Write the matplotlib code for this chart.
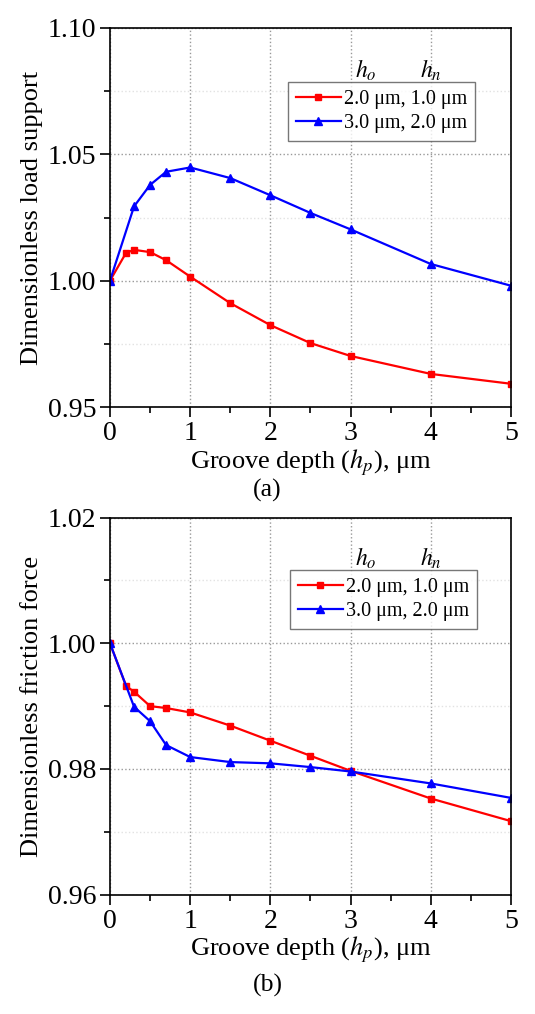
import matplotlib
matplotlib.use('Agg')
import matplotlib.pyplot as plt
from matplotlib.ticker import MultipleLocator, FormatStrFormatter

plt.rcParams['font.family'] = ['Liberation Serif', 'DejaVu Serif']
plt.rcParams['mathtext.fontset'] = 'stix'

# groove depth (um)
x_red = [0, 0.2, 0.3, 0.5, 0.7, 1.0, 1.5, 2.0, 2.5, 3.0, 4.0, 5.0]
x_blue = [0, 0.3, 0.5, 0.7, 1.0, 1.5, 2.0, 2.5, 3.0, 4.0, 5.0]

# (a) dimensionless load support
load_red = [1.000, 1.0110, 1.0122, 1.0113, 1.0081, 1.0016, 0.9911, 0.9824, 0.9753, 0.9702, 0.9631, 0.9592]
load_blue = [1.000, 1.0294, 1.0379, 1.0431, 1.0448, 1.0406, 1.0338, 1.0268, 1.0203, 1.0066, 0.9980]

# (b) dimensionless friction force
fric_red = [1.000, 0.9932, 0.9923, 0.9900, 0.9897, 0.9890, 0.9869, 0.9845, 0.9821, 0.9797, 0.9753, 0.9717]
fric_blue = [1.000, 0.9899, 0.9876, 0.9838, 0.9819, 0.9811, 0.9809, 0.9803, 0.9796, 0.9777, 0.9754]

labels = ['2.0 μm, 1.0 μm', '3.0 μm, 2.0 μm']

fig = plt.figure(figsize=(5.35, 10.14), dpi=100)
ax1 = fig.add_axes([0.2056, 0.5986, 0.7495, 0.3738])
ax2 = fig.add_axes([0.2056, 0.1177, 0.7495, 0.3718])


def style_axes(ax, ylim, ymaj, ymin, ylabel):
    ax.set_xlim(0, 5)
    ax.set_ylim(*ylim)
    ax.xaxis.set_major_locator(MultipleLocator(1))
    ax.xaxis.set_minor_locator(MultipleLocator(0.5))
    ax.yaxis.set_major_locator(MultipleLocator(ymaj))
    ax.yaxis.set_minor_locator(MultipleLocator(ymin))
    ax.yaxis.set_major_formatter(FormatStrFormatter('%.2f'))
    ax.tick_params(which='both', direction='out', top=False, right=False, labelsize=20, width=1.2)
    ax.tick_params(which='major', length=7, pad=3)
    ax.tick_params(which='minor', length=4)
    ax.grid(True, which='major', linestyle=':', color='#999999', linewidth=1.0)
    ax.grid(True, which='minor', axis='y', linestyle=':', color='#e2e2e2', linewidth=1.0)
    for sp in ax.spines.values():
        sp.set_linewidth(1.2)
    ax.set_xlabel(r'Groove depth ($h_p$), μm', fontsize=19, labelpad=1)
    ax.set_ylabel(ylabel, fontsize=19, labelpad=3)


legend_kw = dict(loc='upper right', borderaxespad=0, fontsize=14.5, fancybox=False,
                 edgecolor='#555555', handlelength=2.2, handletextpad=0.15,
                 borderpad=0.4, labelspacing=0.25)

ax1.plot(x_red, load_red, color='red', marker='s', markersize=5, linewidth=1.6, label=labels[0])
ax1.plot(x_blue, load_blue, color='blue', marker='^', markersize=6, linewidth=1.6, label=labels[1])
style_axes(ax1, (0.95, 1.10), 0.05, 0.025, 'Dimensionless load support')
leg1 = ax1.legend(bbox_to_anchor=(0.91, 0.858), **legend_kw)
leg1.get_frame().set_linewidth(1.0)
ax1.text(3.05, 1.0834, r'$h_o$', fontsize=17, ha='left', va='center')
ax1.text(4.0, 1.0834, r'$h_n$', fontsize=17, ha='center', va='center')

ax2.plot(x_red, fric_red, color='red', marker='s', markersize=5, linewidth=1.6, label=labels[0])
ax2.plot(x_blue, fric_blue, color='blue', marker='^', markersize=6, linewidth=1.6, label=labels[1])
style_axes(ax2, (0.96, 1.02), 0.02, 0.01, 'Dimensionless friction force')
leg2 = ax2.legend(bbox_to_anchor=(0.915, 0.861), **legend_kw)
leg2.get_frame().set_linewidth(1.0)
ax2.text(3.05, 1.0136, r'$h_o$', fontsize=17, ha='left', va='center')
ax2.text(4.0, 1.0136, r'$h_n$', fontsize=17, ha='center', va='center')

fig.text(0.5, 1 - 490 / 1014, '(a)', fontsize=18.5, ha='center', va='center')
fig.text(0.5, 1 - 985 / 1014, '(b)', fontsize=18.5, ha='center', va='center')

fig.savefig('out.png', dpi=100)
